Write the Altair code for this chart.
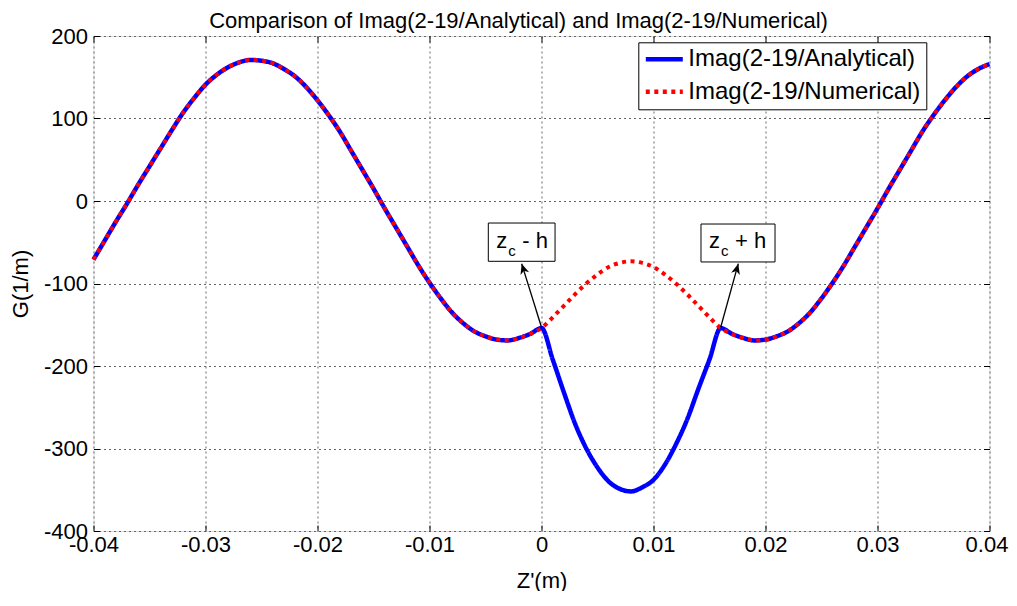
import altair as alt
import pandas as pd

# ---- data ----
z_mm = list(range(-40, 41))  # sample positions, in mm (x = z_mm / 1000 m)
numerical = [
    -71, -48, -25, -3, 20, 42, 64, 86, 107, 125,
    141, 153, 162, 168, 171, 170, 167, 160, 151, 138,
    122, 104, 84, 61, 38, 15, -9, -32, -55, -78,
    -99, -118, -135, -148, -158, -164, -168, -169, -166, -161,
    -154, -141, -127, -113, -100, -89, -80, -75, -73, -75,
    -80, -89, -100, -113, -127, -141, -154, -161, -166, -169,
    -168, -164, -158, -148, -135, -118, -99, -78, -55, -32,
    -9, 15, 38, 61, 84, 104, 122, 138, 151, 160,
    166,
]
dip_mm = list(range(1, 16))
dip_vals = [-192, -232, -270, -300, -323, -340, -349, -352, -347, -338,
            -320, -295, -265, -228, -192]

series_names = ["Imag(2-19/Analytical)", "Imag(2-19/Numerical)"]
x_ticks = [-0.04, -0.03, -0.02, -0.01, 0, 0.01, 0.02, 0.03, 0.04]
y_ticks = [-400, -300, -200, -100, 0, 100, 200]

# annotation boxes (data coords)
box_x1 = [-0.00475, 0.01424]
box_x2 = [0.00121, 0.02085]
box_y1 = [-26.7, -27.9]
box_y2 = [-73.1, -73.9]
box_op = ["-", "+"]
arrow_x = [0.0, 0.016]
arrow_y = [-153, -153]
head_x = [-0.00177, 0.01757]
head_y = [-76, -76]
head_angle = [342.6, 15.4]

# ---- tables ----
xs = [m / 1000 for m in z_mm]
analytical = list(numerical)
for m, v in zip(dip_mm, dip_vals):
    analytical[z_mm.index(m)] = v

df = pd.DataFrame({
    "z": xs + xs,
    "g": analytical + numerical,
    "series": [series_names[0]] * len(xs) + [series_names[1]] * len(xs),
})
ann = pd.DataFrame({
    "bx1": box_x1, "bx2": box_x2, "by1": box_y1, "by2": box_y2,
    "op": [o + " h" for o in box_op], "z": ["z", "z"], "c": ["c", "c"],
    "ax": arrow_x, "ay": arrow_y, "hx": head_x, "hy": head_y, "ang": head_angle,
    "ty": [-57.5, -57.5],
})

FONT = "Liberation Sans"
xscale = alt.Scale(domain=[-0.04, 0.04], nice=False, zero=False)
yscale = alt.Scale(domain=[-400, 200], nice=False, zero=False)
minus_fix = "replace(datum.label, '\u2212', '-')"

xaxis = alt.Axis(values=x_ticks, format=".2~f", labelExpr=minus_fix, title="Z'(m)",
                 offset=-6, tickSize=6, tickColor="black", domain=False,
                 grid=True, gridDash=[2, 3], gridColor="#666666", gridWidth=1,
                 labelFontSize=22, labelFont=FONT, labelColor="black", labelPadding=3,
                 labelFlush=False,
                 labelOffset=alt.condition("datum.value >= 0.039", alt.value(-3), alt.value(0)),
                 titleFontSize=22, titleFont=FONT, titleFontWeight="normal",
                 titleColor="black", titleX=448, titleY=55, titleBaseline="middle")
yaxis = alt.Axis(values=y_ticks, format="d", labelExpr=minus_fix, title="G(1/m)",
                 offset=-6, tickSize=6, tickColor="black", domain=False,
                 grid=True, gridDash=[2, 3], gridColor="#666666", gridWidth=1,
                 labelFontSize=22, labelFont=FONT, labelColor="black", labelPadding=6,
                 labelFlush=False, titleFontSize=22, titleFont=FONT, titleFontWeight="normal",
                 titleColor="black", titleX=-79.5, titleY=247.5, titleBaseline="middle")

legend = alt.Legend(title=None, orient="none", legendX=544.8, legendY=6.3, padding=5,
                    strokeColor="black", fillColor="white", cornerRadius=0,
                    labelFontSize=24, labelFont=FONT, labelColor="black", labelLimit=500,
                    symbolType="stroke", symbolSize=1369, symbolStrokeWidth=4.5,
                    labelOffset=3, rowPadding=8.5, clipHeight=24)

color = alt.Color("series:N", scale=alt.Scale(domain=series_names, range=["#0000FF", "#FF0000"]),
                  legend=legend)
dash = alt.StrokeDash("series:N", scale=alt.Scale(domain=series_names, range=[[1, 0], [4, 4.5]]),
                      legend=legend)

base = alt.Chart(df).encode(
    x=alt.X("z:Q", scale=xscale, axis=xaxis),
    y=alt.Y("g:Q", scale=yscale, axis=yaxis),
    color=color, strokeDash=dash,
)
blue = base.transform_filter(alt.datum.series == series_names[0]).mark_line(
    strokeWidth=4.5, interpolate="monotone", strokeCap="butt")
red = base.transform_filter(alt.datum.series == series_names[1]).mark_line(
    strokeWidth=4, interpolate="monotone", strokeCap="butt")

abase = alt.Chart(ann)
arrows = abase.mark_rule(color="black", strokeWidth=1.3).encode(
    x=alt.X("ax:Q", scale=xscale), y=alt.Y("ay:Q", scale=yscale), x2="hx:Q", y2="hy:Q")
heads = abase.mark_point(shape="M0,0L-0.9,2.1L0,1.5L0.9,2.1Z", filled=True, color="black",
                         opacity=1, size=100).encode(
    x=alt.X("hx:Q", scale=xscale), y=alt.Y("hy:Q", scale=yscale), angle=alt.Angle("ang:Q", scale=None))
boxes = abase.mark_rect(fill="white", stroke="black", strokeWidth=1).encode(
    x=alt.X("bx1:Q", scale=xscale), x2="bx2:Q", y=alt.Y("by1:Q", scale=yscale), y2="by2:Q")
tz = abase.mark_text(align="left", baseline="alphabetic", fontSize=22, font=FONT, dx=8,
                     color="black").encode(
    x=alt.X("bx1:Q", scale=xscale), y=alt.Y("ty:Q", scale=yscale), text="z:N")
tc = abase.mark_text(align="left", baseline="alphabetic", fontSize=15, font=FONT, dx=20, dy=8,
                     color="black").encode(
    x=alt.X("bx1:Q", scale=xscale), y=alt.Y("ty:Q", scale=yscale), text="c:N")
th = abase.mark_text(align="left", baseline="alphabetic", fontSize=22, font=FONT, dx=34,
                     color="black").encode(
    x=alt.X("bx1:Q", scale=xscale), y=alt.Y("ty:Q", scale=yscale), text="op:N")

main = alt.layer(blue, red, arrows, heads, boxes, tz, tc, th)

# top / right inside ticks (no labels)
dummy = alt.Chart(df).mark_point(opacity=0).encode(
    x=alt.X("z:Q", scale=xscale, axis=alt.Axis(orient="top", values=x_ticks, labels=False,
            offset=-6, tickSize=6, tickColor="black", domain=False, grid=False, title=None)),
    y=alt.Y("g:Q", scale=yscale, axis=alt.Axis(orient="right", values=y_ticks, labels=False,
            offset=-6, tickSize=6, tickColor="black", domain=False, grid=False, title=None)),
)

chart = alt.layer(main, dummy).resolve_scale(x="independent", y="independent").properties(
    width=896, height=495,
    autosize=alt.AutoSizeParams(type="none"),
    padding={"left": 85.5, "top": 28, "right": 19, "bottom": 60},
    title=alt.TitleParams("Comparison of Imag(2-19/Analytical) and Imag(2-19/Numerical)",
                          fontSize=22, font=FONT, fontWeight="normal", color="black",
                          anchor="middle", dx=-23, dy=20, offset=12),
).configure_view(stroke="black", strokeWidth=1).configure(font=FONT, background="white")

chart.save("out.html", embed_options={"renderer": "svg", "actions": False})
